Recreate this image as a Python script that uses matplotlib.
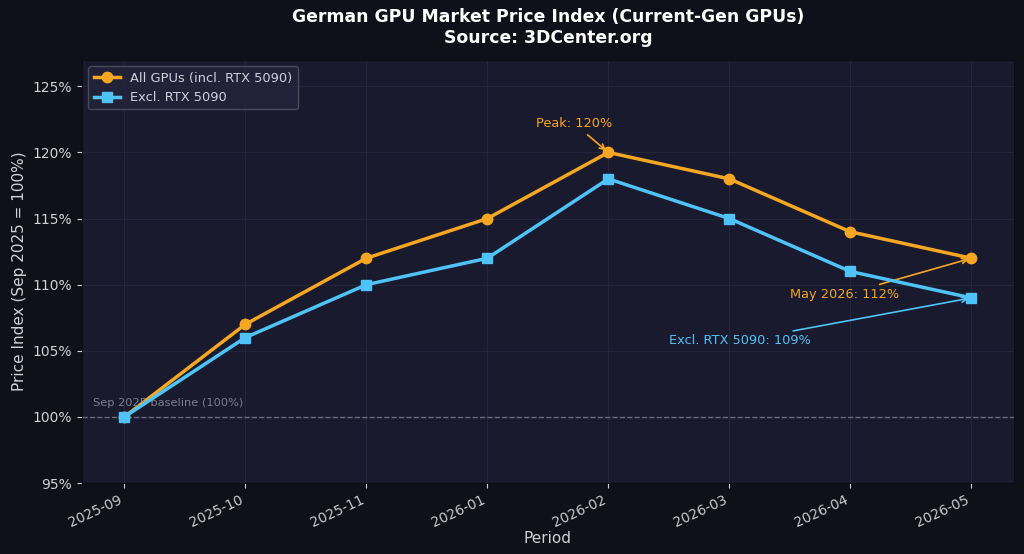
import numpy as np
import matplotlib.pyplot as plt

# data
periods = ['2025-09', '2025-10', '2025-11', '2026-01', '2026-02', '2026-03', '2026-04', '2026-05']
all_gpus = [100, 107, 112, 115, 120, 118, 114, 112]
excl_5090 = [100, 106, 110, 112, 118, 115, 111, 109]

BG = '#10101a'
AX_BG = '#1a1a2e'
ORANGE = '#f5a623'
BLUE = '#4fc3f7'
TXT = '#d0d0d8'

fig, ax = plt.subplots(figsize=(10.24, 5.54), dpi=100)
fig.patch.set_facecolor(BG)
ax.set_facecolor(AX_BG)

x = np.arange(len(periods))
ax.plot(x, all_gpus, color=ORANGE, lw=2.5, marker='o', ms=7.5, label='All GPUs (incl. RTX 5090)', zorder=3)
ax.plot(x, excl_5090, color=BLUE, lw=2.5, marker='s', ms=7, label='Excl. RTX 5090', zorder=4)

# baseline
ax.axhline(100, color='#888899', ls='--', lw=1, alpha=0.7)
ax.text(-0.26, 100.8, 'Sep 2025 baseline (100%)', color='#888899', fontsize=8.2, alpha=0.9)

# annotations
pk = int(np.argmax(all_gpus))
ax.annotate(f'Peak: {all_gpus[pk]}%', xy=(pk, all_gpus[pk]), xytext=(3.72, 121.9),
            color=ORANGE, fontsize=9.3, ha='center',
            arrowprops=dict(arrowstyle='->', color=ORANGE, lw=1.2))
ax.annotate(f'May 2026: {all_gpus[-1]}%', xy=(x[-1], all_gpus[-1]), xytext=(5.95, 109.0),
            color=ORANGE, fontsize=9.3, ha='center',
            arrowprops=dict(arrowstyle='->', color=ORANGE, lw=1.2))
ax.annotate(f'Excl. RTX 5090: {excl_5090[-1]}%', xy=(x[-1], excl_5090[-1]), xytext=(5.09, 105.5),
            color=BLUE, fontsize=9.3, ha='center',
            arrowprops=dict(arrowstyle='->', color=BLUE, lw=1.2))

ax.set_ylim(95, 127)
ax.set_yticks(np.arange(95, 126, 5))
ax.set_yticklabels([f'{v}%' for v in range(95, 126, 5)])
ax.set_xticks(x)
ax.set_xticklabels(periods, rotation=25, ha='right')

ax.grid(True, color='#2a2a40', lw=0.6, alpha=0.8)
ax.set_axisbelow(True)
for s in ax.spines.values():
    s.set_color('#0c0c14')
ax.tick_params(colors=TXT, labelsize=10)
ax.tick_params(axis='x', labelcolor='#c8c8d0')

ax.set_xlabel('Period', color=TXT, fontsize=11, labelpad=1)
ax.set_ylabel('Price Index (Sep 2025 = 100%)', color=TXT, fontsize=11)
ax.set_title('German GPU Market Price Index (Current-Gen GPUs)\nSource: 3DCenter.org',
             color='white', fontsize=12.4, fontweight='bold', pad=12)

leg = ax.legend(loc='upper left', facecolor='#23233a', edgecolor='#555566', fontsize=9.4)
for t in leg.get_texts():
    t.set_color(TXT)

fig.subplots_adjust(left=0.08, right=0.99, top=0.892, bottom=0.128)
fig.savefig('out.png', dpi=100, facecolor=BG)
